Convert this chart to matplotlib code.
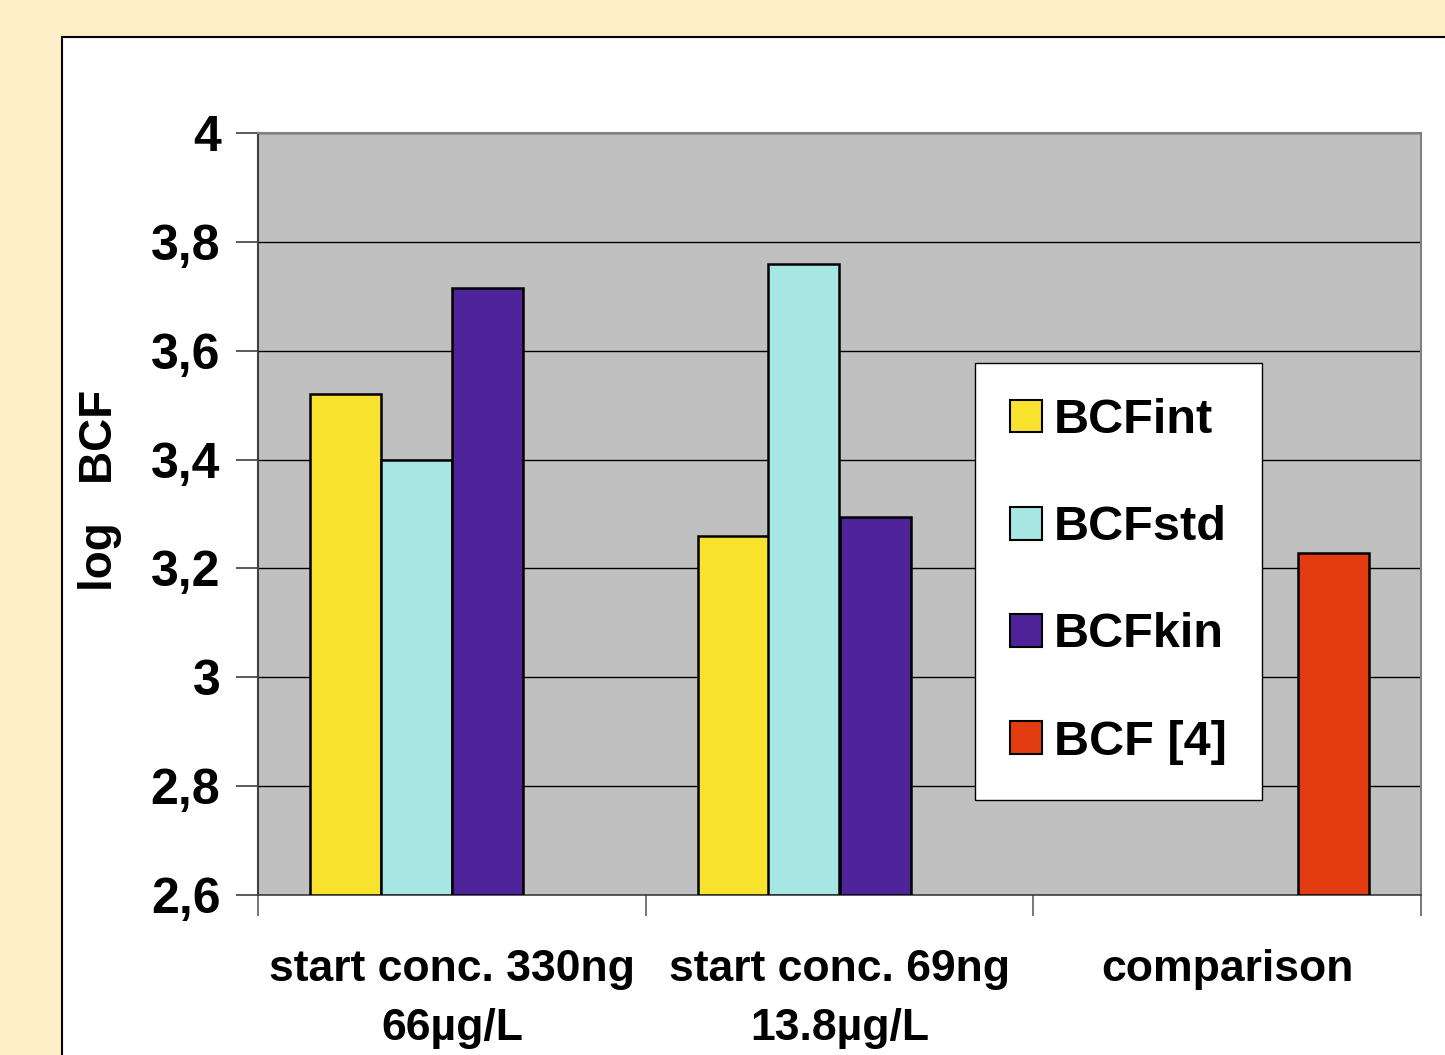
import numpy as np
import matplotlib
matplotlib.use("Agg")
import matplotlib.pyplot as plt
from matplotlib.patches import Rectangle
from matplotlib.ticker import FuncFormatter, FixedLocator

plt.rcParams['font.family'] = ['Liberation Sans', 'DejaVu Sans']
plt.rcParams['font.weight'] = 'bold'

# data
groups = ["start conc. 330ng\n66µg/L", "start conc. 69ng\n13.8µg/L", "comparison"]
series = ["BCFint", "BCFstd", "BCFkin", "BCF [4]"]
bcf_int = [3.52, 3.26, np.nan]
bcf_std = [3.40, 3.76, np.nan]
bcf_kin = [3.715, 3.295, np.nan]
bcf_ref = [np.nan, np.nan, 3.228]
colors = ['#F8E22E', '#A6E6E3', '#4E239A', '#E23C10']

W, H = 1445, 1055
fig = plt.figure(figsize=(W / 100, H / 100), dpi=100, facecolor='#FFEFC9')

# white chart panel
fig.patches.append(Rectangle((62 / W, -0.01), 1.1, (H - 37) / H + 0.01,
                             transform=fig.transFigure, facecolor='white',
                             edgecolor='black', lw=1.5, zorder=-5))

ax = fig.add_axes([258 / W, (H - 895) / H, 1163 / W, 762 / H])
ax.set_zorder(2)
ax.set_facecolor('#C0C0C0')

x = np.arange(len(groups)) + 0.5
w = 71 / (1163 / 3)
for i, (vals, c, name) in enumerate(zip([bcf_int, bcf_std, bcf_kin, bcf_ref], colors, series)):
    v = np.array(vals, dtype=float)
    ax.bar(x + (i - 1.5) * w, v - 2.6, w, bottom=2.6, color=c, edgecolor='black',
           lw=1.8, label=name, zorder=3)

ax.set_ylim(2.6, 4.0)
ax.set_xlim(0, 3)
ax.set_yticks(np.arange(2.6, 4.01, 0.2))
ax.yaxis.set_major_formatter(FuncFormatter(lambda v, p: ('%g' % round(v, 1)).replace('.', ',')))
ax.tick_params(axis='y', labelsize=36, length=16, width=1.2, color='#404040', pad=11)
ax.grid(axis='y', color='black', lw=1.0, zorder=1)
ax.set_axisbelow(True)

ax.xaxis.set_major_locator(FixedLocator([0, 1, 2, 3]))
ax.xaxis.set_minor_locator(FixedLocator(x))
ax.set_xticklabels([])
ax.set_xticklabels(groups, minor=True, linespacing=1.55)
ax.tick_params(axis='x', which='major', length=15, width=1.2, color='#606060')
ax.tick_params(axis='x', which='minor', length=0, labelsize=32, pad=39)

for s in ['top', 'right']:
    ax.spines[s].set_color('#808080')
    ax.spines[s].set_linewidth(1.5)
ax.spines['left'].set_color('#404040')
ax.spines['left'].set_linewidth(1.5)
ax.spines['bottom'].set_color('#404040')
ax.spines['bottom'].set_linewidth(1.2)

fig.text(100 / W, 1 - 490 / H, "log   BCF", rotation=90, ha='center', va='center',
         fontsize=33, fontweight='bold')

leg = ax.legend(loc='upper left', bbox_to_anchor=(975 / W, 1 - 363 / H),
                bbox_transform=fig.transFigure, fontsize=35, frameon=True,
                fancybox=False, edgecolor='black', framealpha=1,
                handlelength=0.66, handleheight=0.66, handletextpad=0.25,
                labelspacing=1.28, borderpad=0.72, borderaxespad=0)
leg.get_frame().set_linewidth(1.0)
for h in leg.legend_handles:
    h.set_linewidth(1.5)

fig.savefig("out.png", dpi=100, facecolor=fig.get_facecolor())
